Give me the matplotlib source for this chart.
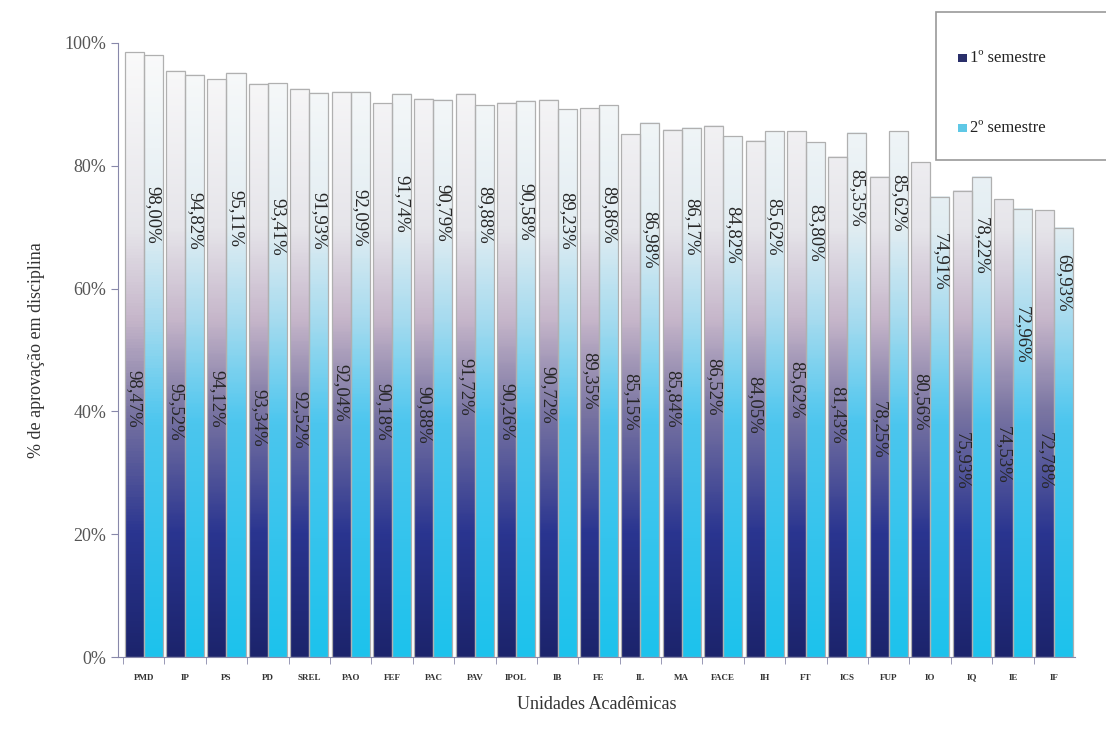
import numpy as np
import matplotlib.pyplot as plt
from matplotlib.colors import LinearSegmentedColormap
from matplotlib.patches import Rectangle

plt.rcParams['font.family'] = ['Liberation Serif', 'DejaVu Serif']

units = ['PMD', 'IP', 'PS', 'PD', 'SREL', 'PAO', 'FEF', 'PAC', 'PAV', 'IPOL', 'IB', 'FE',
         'IL', 'MA', 'FACE', 'IH', 'FT', 'ICS', 'FUP', 'IO', 'IQ', 'IE', 'IF']
sem1 = [98.47, 95.52, 94.12, 93.34, 92.52, 92.04, 90.18, 90.88, 91.72, 90.26, 90.72, 89.35,
        85.15, 85.84, 86.52, 84.05, 85.62, 81.43, 78.25, 80.56, 75.93, 74.53, 72.78]
sem2 = [98.00, 94.82, 95.11, 93.41, 91.93, 92.09, 91.74, 90.79, 89.88, 90.58, 89.23, 89.86,
        86.98, 86.17, 84.82, 85.62, 83.80, 85.35, 85.62, 74.91, 78.22, 72.96, 69.93]

# heights (in %) where the value labels sit
lab1_y = [42, 40, 42, 39, 38.6, 43, 40, 39.4, 44, 40, 42.7, 45,
          41.5, 42, 44, 41, 43.5, 39.4, 37, 41.5, 32, 33, 32]
lab2_y = [72, 71, 71.5, 70, 71, 71.5, 73.8, 72.3, 72, 72.5, 71, 72,
          68, 70, 68.7, 70, 69, 74.8, 74, 64.3, 67, 52.4, 61]

cm1 = LinearSegmentedColormap.from_list('s1', [(0, '#1c246c'), (0.2, '#2a3590'), (0.4, '#7a75a2'),
                                               (0.55, '#c6b6ca'), (0.7, '#e6e5ea'), (1, '#fbfbfb')])
cm2 = LinearSegmentedColormap.from_list('s2', [(0, '#1dc2ec'), (0.38, '#4cc6ee'), (0.55, '#a6dbef'),
                                               (0.7, '#e2edf2'), (1, '#fbfbfb')])

fig = plt.figure(figsize=(11.06, 7.35), dpi=100)
ax = fig.add_axes([0.1067, 0.106, 0.8653, 0.8355])

x = np.arange(len(units))
w = 0.46

def grad_bar(x0, h, cmap):
    g = np.linspace(0, h / 100, 200).reshape(-1, 1)
    ax.imshow(g, cmap=cmap, vmin=0, vmax=1, extent=[x0, x0 + w, 0, h],
              aspect='auto', origin='lower', zorder=2)
    ax.add_patch(Rectangle((x0, 0), w, h, fill=False, edgecolor='#b0b0b0', lw=0.9, zorder=3))

for i in range(len(units)):
    grad_bar(x[i] - w, sem1[i], cm1)
    grad_bar(x[i], sem2[i], cm2)
    ax.text(x[i] - w / 2, lab1_y[i], ('%.2f%%' % sem1[i]).replace('.', ','), rotation=270,
            ha='center', va='center', fontsize=13.5, color='#262626', zorder=4)
    ax.text(x[i] + w / 2, lab2_y[i], ('%.2f%%' % sem2[i]).replace('.', ','), rotation=270,
            ha='center', va='center', fontsize=13.5, color='#262626', zorder=4)

ax.set_xlim(-0.62, len(units) - 0.5)
ax.set_ylim(0, 100)
ax.set_yticks([0, 20, 40, 60, 80, 100])
ax.set_yticklabels(['0%', '20%', '40%', '60%', '80%', '100%'], fontsize=13, color='#555555')
ax.set_xticks(x)
ax.set_xticklabels(units, fontsize=6.5, color='#333333', fontweight='bold')
ax.set_xticks(x - 0.5, minor=True)
ax.tick_params(axis='x', which='major', length=0, pad=12)
ax.tick_params(axis='x', which='minor', length=5, color='#8888aa')
ax.tick_params(axis='y', length=5, color='#8888aa')

for s in ['top', 'right']:
    ax.spines[s].set_visible(False)
for s in ['left', 'bottom']:
    ax.spines[s].set_color('#8888aa')

ax.set_ylabel('% de aprovação em disciplina', fontsize=13, color='#333333', labelpad=14)
ax.set_xlabel('Unidades Acadêmicas', fontsize=13, color='#333333', labelpad=10)

# legend box
fig.patches.append(Rectangle((0.846, 0.782), 0.17, 0.202, transform=fig.transFigure,
                             facecolor='white', edgecolor='#999999', lw=1.2, zorder=5))
fig.patches.append(Rectangle((0.866, 0.916), 0.008, 0.01, transform=fig.transFigure,
                             facecolor='#2a2f6a', edgecolor='none', zorder=6))
fig.patches.append(Rectangle((0.866, 0.821), 0.008, 0.01, transform=fig.transFigure,
                             facecolor='#5fc8e6', edgecolor='none', zorder=6))
fig.text(0.877, 0.921, '1º semestre', fontsize=12, va='center', color='#222222', zorder=7)
fig.text(0.877, 0.826, '2º semestre', fontsize=12, va='center', color='#222222', zorder=7)

plt.savefig('out.png', dpi=100)
